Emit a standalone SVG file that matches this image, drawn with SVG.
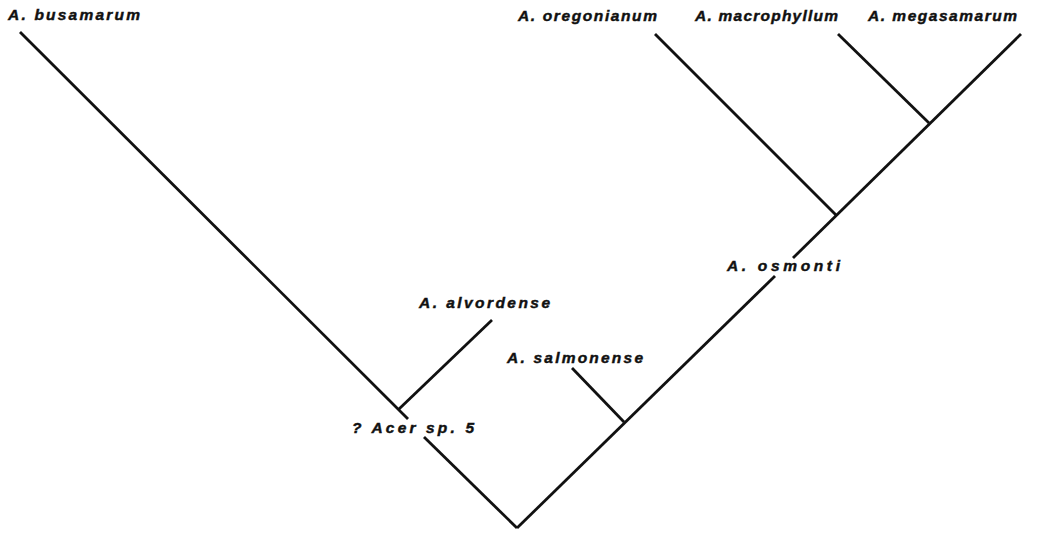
<svg xmlns="http://www.w3.org/2000/svg" width="1063" height="533" viewBox="0 0 1063 533">
<style>
.lbl{font-family:"Liberation Sans",Arial,sans-serif;font-weight:bold;font-style:italic;font-size:15.5px;fill:#111;stroke:#111;stroke-width:0.45px;}
.edge{stroke:#111;stroke-width:2.8;fill:none;stroke-linecap:butt;}
</style>
<rect width="1063" height="533" fill="#fff"/>
<g id="connectors">
<line class="edge" x1="20" y1="32" x2="408" y2="419"/>
<line class="edge" x1="424" y1="437" x2="517" y2="528"/>
<line class="edge" x1="399" y1="409" x2="492" y2="320"/>
<line class="edge" x1="517" y1="528" x2="775" y2="276"/>
<line class="edge" x1="793" y1="258" x2="1021" y2="34"/>
<line class="edge" x1="624" y1="422" x2="572" y2="368"/>
<line class="edge" x1="836" y1="215" x2="655" y2="34"/>
<line class="edge" x1="929" y1="123" x2="838" y2="34"/>
</g>
<g id="busamarum"><text class="lbl" x="8" y="20" textLength="132" lengthAdjust="spacing">A. busamarum</text></g>
<g id="oregonianum"><text class="lbl" x="518" y="21" textLength="139" lengthAdjust="spacing">A. oregonianum</text></g>
<g id="macrophyllum"><text class="lbl" x="695" y="21" textLength="143" lengthAdjust="spacing">A. macrophyllum</text></g>
<g id="megasamarum"><text class="lbl" x="868" y="21" textLength="149" lengthAdjust="spacing">A. megasamarum</text></g>
<g id="alvordense"><text class="lbl" x="419" y="308" textLength="131" lengthAdjust="spacing">A. alvordense</text></g>
<g id="salmonense"><text class="lbl" x="507" y="363" textLength="136" lengthAdjust="spacing">A. salmonense</text></g>
<g id="acer-sp5"><text class="lbl" x="352" y="433" textLength="122" lengthAdjust="spacing">? Acer sp. 5</text></g>
<g id="osmonti"><text class="lbl" x="727" y="271" textLength="113" lengthAdjust="spacing">A. osmonti</text></g>
</svg>
